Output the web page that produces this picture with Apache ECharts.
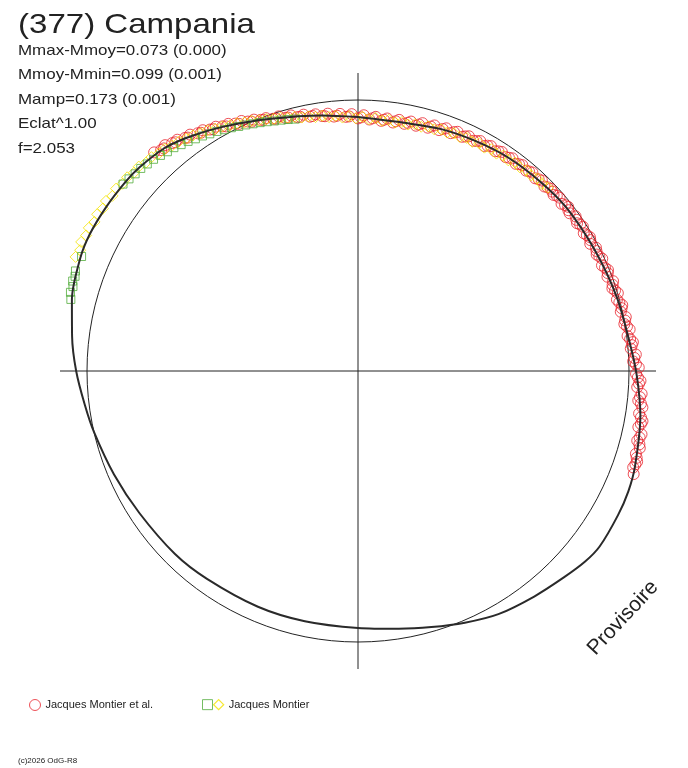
<!DOCTYPE html>
<html>
<head>
<meta charset="utf-8">
<title>(377) Campania</title>
<script src="https://cdn.jsdelivr.net/npm/echarts@6/dist/echarts.min.js"></script>
<style>
  html, body { margin: 0; padding: 0; background: #fff; }
  #chart { width: 688px; height: 768px; }
</style>
</head>
<body>
<div id="chart"></div>
<script>
// courbe de lumiere polaire : [phase en degres, rayon relatif (1 = cercle moyen)]
var titre = '(377) Campania';
var stats = ['Mmax-Mmoy=0.073 (0.000)', 'Mmoy-Mmin=0.099 (0.001)', 'Mamp=0.173 (0.001)', 'Eclat^1.00', 'f=2.053'];

var courbe = [
  [0,0.937],[11,0.932],[19,0.944],[27,0.953],[35,0.963],[44,0.970],[52,0.977],[63,0.981],
  [74,0.993],[84,1.008],[91,1.029],[99,1.055],[109,1.081],[114,1.092],[119,1.097],[126,1.102],
  [130,1.094],[135,1.076],[142,1.056],[150,1.036],[157,1.009],[164,0.983],[171,0.963],[180,0.948],
  [192,0.944],[203,0.945],[216,0.948],[225,0.955],[237,0.962],[247,0.978],[257,1.000],[263,1.016],
  [270,1.040],[277,1.063],[284,1.088],[292,1.106],[297,1.111],[303,1.109],[309,1.106],[313,1.102],
  [319,1.089],[324,1.066],[331,1.030],[341,0.984],[352,0.952],[360,0.937]
];

// Jacques Montier et al. (deux nuits)
var montierEtAl1 = [
  [317,1.103],[318.3,1.092],[319.5,1.096],[320.8,1.085],[322,1.083],[323.4,1.071],[324.6,1.070],
  [326,1.058],[327.2,1.057],[328.5,1.045],[329.8,1.043],[331,1.032],[332.3,1.030],[333.6,1.019],
  [335,1.018],[336.2,1.006],[337.5,1.004],[338.8,0.994],[340,0.993],[341.4,0.982],[342.7,0.984],
  [344,0.972],[345.3,0.975],[346.6,0.963],[348,0.967],[349.3,0.955],[350.6,0.960],[352,0.950],
  [353.3,0.956],[354.6,0.943],[356,0.951],[357.3,0.939],[358.6,0.948],[0,0.932],[1.3,0.944],
  [2.6,0.929],[4,0.940],[5.3,0.927],[6.6,0.938],[8,0.926],[9.3,0.939],[10.6,0.928],[12,0.941],
  [13.3,0.930],[14.6,0.945],[16,0.934],[17.3,0.949],[18.6,0.938],[20,0.953],[21.3,0.942],
  [22.6,0.956],[24,0.946],[25.3,0.958],[26.6,0.950],[28,0.961],[29.3,0.952],[30.6,0.964],
  [32,0.956],[33.3,0.967],[34.6,0.959],[36,0.970],[37.3,0.961],[38.6,0.972],[40,0.965],
  [41.3,0.975],[42.6,0.966],[44,0.977],[45.3,0.968],[46.6,0.979],[48,0.971],[49.3,0.981],
  [50.6,0.972],[52,0.984],[53.3,0.974],[54.6,0.985],[56,0.975],[57.3,0.986],[58.6,0.976],
  [60,0.988],[61.3,0.977],[62.6,0.989],[64,0.980],[65.3,0.992],[66.6,0.981],[68,0.995],
  [69.3,0.984],[70.6,0.998],[72,0.987],[73.3,1.001],[74.6,0.991],[76,1.005],[77.3,0.994],
  [78.6,1.008],[80,0.998],[81.3,1.014],[82.6,1.003],[84,1.020],[85.3,1.010],[86.6,1.027],
  [88,1.016],[89.3,1.036],[90.6,1.026],[92,1.043],[93.3,1.032],[94.6,1.050],[96,1.040],
  [97.3,1.058],[98.6,1.049],[100,1.066],[101.3,1.055],[102.6,1.072],[104,1.062],[105.3,1.078],
  [106.6,1.070],[108,1.083],[109.3,1.076],[110.5,1.086]
];
var montierEtAl2 = [
  [318.9,1.090],[321.4,1.080],[323.9,1.066],[326.6,1.053],[329.1,1.040],[331.7,1.025],[334.3,1.012],
  [336.9,1.000],[339.4,0.990],[342,0.979],[344.6,0.970],[347.2,0.962],[349.9,0.956],[352.6,0.948],
  [355.3,0.945],[358,0.940],[0.7,0.936],[3.3,0.934],[5.9,0.932],[8.6,0.932],[11.3,0.934],
  [13.9,0.937],[16.6,0.941],[19.3,0.946],[21.9,0.950],[24.6,0.952],[27.3,0.955],[29.9,0.959],
  [32.6,0.962],[35.3,0.964],[37.9,0.967],[40.6,0.970],[43.3,0.972],[45.9,0.974],[47.3,0.976],
  [48.6,0.978],[51.3,0.979],[52.6,0.977],[55.3,0.980],[56.6,0.982],[59.3,0.982],[60.6,0.984],
  [63.3,0.985],[64.6,0.986],[67.3,0.988],[68.6,0.990],[71.3,0.992],[72.6,0.994],[75.3,0.997],
  [76.6,1.000],[79.3,1.003],[80.6,1.006],[83.3,1.011],[84.6,1.015],[87.3,1.021],[88.6,1.026],
  [91.3,1.033],[92.6,1.038],[95.3,1.045],[96.6,1.051],[99.3,1.058],[100.6,1.062],[103.3,1.068],
  [104.6,1.073],[107.3,1.077],[108.6,1.080]
];

// Jacques Montier (losanges jaunes)
var montierJaune = [
  [292,1.124],[293.5,1.118],[295,1.127],[296.5,1.121],[298,1.125],[299.5,1.117],[301,1.123],
  [302.5,1.116],[304,1.122],[305.5,1.113],[307,1.118],[308.5,1.110],[310,1.112],[311.5,1.104],
  [313,1.106],[314.5,1.097],[316,1.097],[317.5,1.088],[319,1.086],[320.5,1.078],[322,1.074],
  [323.5,1.066],[325,1.061],[326.5,1.052],[328,1.047],[329.5,1.037],[331,1.032],[332.5,1.022],
  [334,1.017],[335.5,1.008],[337,1.003],[338.5,0.994],[340,0.989],[341.5,0.981],[343,0.977],
  [344.5,0.969],[346,0.966],[347.5,0.958],[349,0.957],[350.5,0.950],[352,0.951],[353.5,0.943],
  [355,0.945],[356.5,0.937],[358,0.941],[359.5,0.933],[1,0.938],[2.5,0.930],[4,0.936],
  [5.5,0.928],[7,0.934],[8.5,0.927],[10,0.933],[11.5,0.928],[13,0.935],[14.5,0.931],[16,0.939],
  [17.5,0.935],[19,0.943],[20.5,0.939],[22,0.946],[23.5,0.942],[25,0.949],[26.5,0.945],
  [28,0.952],[29.5,0.947],[31,0.955],[32.5,0.951],[34,0.959],[35.5,0.955],[37,0.963],
  [38.5,0.960],[40,0.967],[41.5,0.964],[43,0.971],[44.5,0.968],[46,0.974]
];

// Jacques Montier (carres verts)
var montierVert = [
  [284,1.092],[285.3,1.100],[286.5,1.097],[287.5,1.104],[288.5,1.101],[289.5,1.106],[292.5,1.104],
  [308.5,1.108],[310,1.103],[311.5,1.098],[313,1.096],[314.5,1.090],[316,1.086],[317.5,1.079],
  [319,1.072],[320.5,1.068],[322,1.060],[323.5,1.054],[325,1.046],[326.5,1.040],[328,1.032],
  [329.5,1.026],[331,1.018],[332.5,1.012],[334,1.004],[335.5,0.998],[337,0.991],[338.5,0.985],
  [340,0.979],[341.5,0.973],[343,0.968],[344.5,0.963],[346,0.958]
];

var ROUGE = '#e8262e', JAUNE = '#f4e400', VERT = '#52ac3c', NOIR = '#222';
var police = '"Liberation Sans", Arial, sans-serif';
var CX = 358, CY = 371, R = 271;   // cercle moyen en px

// ECharts polaire attend [rayon, angle]
function polaire(pts) {
  return pts.map(function (p) { return [p[1], p[0]]; });
}

var myChart = echarts.init(document.getElementById('chart'));
var option = {
  animation: false,
  backgroundColor: '#fff',
  polar: [
    { center: [CX, CY], radius: R * 1.2 },  // donnees
    { center: [CX, CY], radius: 298 },      // croix des axes
    { center: [CX, CY], radius: R }         // cercle moyen
  ],
  angleAxis: [
    { polarIndex: 0, type: 'value', min: 0, max: 360, startAngle: 90, clockwise: true, show: false },
    { polarIndex: 1, type: 'value', min: 0, max: 360, interval: 90, startAngle: 90, clockwise: true,
      axisLine: { show: false }, axisTick: { show: false }, axisLabel: { show: false },
      splitLine: { show: true, lineStyle: { color: NOIR, width: 1 } } },
    { polarIndex: 2, type: 'value', min: 0, max: 360, startAngle: 90, clockwise: true,
      axisLine: { show: true, lineStyle: { color: NOIR, width: 1 } },
      axisTick: { show: false }, axisLabel: { show: false }, splitLine: { show: false } }
  ],
  radiusAxis: [
    { polarIndex: 0, type: 'value', min: 0, max: 1.2, show: false },
    { polarIndex: 1, type: 'value', min: 0, max: 1, show: false },
    { polarIndex: 2, type: 'value', min: 0, max: 1, show: false }
  ],
  legend: [
    { left: 29, top: 699, padding: 0, itemWidth: 11, itemHeight: 11, textGap: 6,
      data: [{ name: 'Jacques Montier et al.', itemStyle: { color: 'rgba(0,0,0,0)', borderColor: ROUGE, borderWidth: 1 } }],
      textStyle: { fontFamily: police, fontSize: 11, color: NOIR } },
    { left: 202, top: 699, padding: 0, itemWidth: 10, itemHeight: 10, itemGap: 0, textGap: 3,
      data: [
        { name: 'Montier carres', itemStyle: { color: 'rgba(0,0,0,0)', borderColor: VERT, borderWidth: 1 } },
        { name: 'Jacques Montier', itemStyle: { color: 'rgba(0,0,0,0)', borderColor: JAUNE, borderWidth: 1.3 } }
      ],
      formatter: function (name) { return name === 'Montier carres' ? '' : name; },
      textStyle: { fontFamily: police, fontSize: 11, color: NOIR } }
  ],
  series: [
    { name: 'Jacques Montier et al.', type: 'scatter', coordinateSystem: 'polar', polarIndex: 0, clip: false,
      symbol: 'circle', symbolSize: 11, data: polaire(montierEtAl1.concat(montierEtAl2)),
      itemStyle: { color: 'rgba(0,0,0,0)', borderColor: ROUGE, borderWidth: 1 }, z: 2 },
    { name: 'Jacques Montier', type: 'scatter', coordinateSystem: 'polar', polarIndex: 0, clip: false,
      symbol: 'diamond', symbolSize: 11, data: polaire(montierJaune),
      itemStyle: { color: 'rgba(0,0,0,0)', borderColor: JAUNE, borderWidth: 1 }, z: 3 },
    { name: 'Montier carres', type: 'scatter', coordinateSystem: 'polar', polarIndex: 0, clip: false,
      symbol: 'rect', symbolSize: 8, data: polaire(montierVert),
      itemStyle: { color: 'rgba(0,0,0,0)', borderColor: VERT, borderWidth: 1 }, z: 4 },
    { name: 'courbe', type: 'line', coordinateSystem: 'polar', polarIndex: 0, clip: false,
      data: polaire(courbe), smooth: 0.3, symbol: 'none', silent: true,
      lineStyle: { color: '#2a2a2a', width: 2 }, z: 5 }
  ],
  graphic: [
    { type: 'text', left: 18, top: 11, style: { text: titre, font: '28px ' + police, fill: NOIR }, scaleX: 1.18 },
    { type: 'group', left: 18, top: 43, children: stats.map(function (s, i) {
        return { type: 'text', x: 0, y: i * 24.6, scaleX: 1.13,
                 style: { text: s, font: '15px ' + police, fill: NOIR } };
      }) },
    { type: 'text', x: 623, y: 618, rotation: 47 * Math.PI / 180,
      style: { text: 'Provisoire', font: '21px ' + police, fill: NOIR, align: 'center', verticalAlign: 'middle' } },
    { type: 'text', left: 18, top: 757, style: { text: '(c)2026 OdG-R8', font: '8px ' + police, fill: NOIR } }
  ]
};
myChart.setOption(option);
</script>
</body>
</html>
